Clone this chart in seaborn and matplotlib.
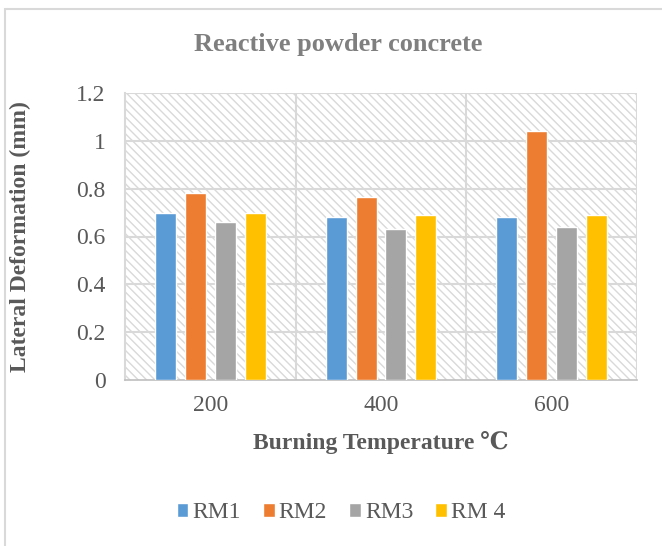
import matplotlib
matplotlib.use("Agg")
import matplotlib.pyplot as plt
import seaborn as sns
import pandas as pd
from matplotlib.patches import Rectangle

temperatures = ["200", "400", "600"]
series_names = ["RM1", "RM2", "RM3", "RM 4"]
rm1 = [0.70, 0.68, 0.68]
rm2 = [0.78, 0.765, 1.04]
rm3 = [0.66, 0.63, 0.64]
rm4 = [0.70, 0.69, 0.69]
colors = ["#5B9BD5", "#ED7D31", "#A5A5A5", "#FFC000"]

rows = []
for name, vals in zip(series_names, [rm1, rm2, rm3, rm4]):
    for t, v in zip(temperatures, vals):
        rows.append({"Temperature": t, "Series": name, "Value": v})
df = pd.DataFrame(rows)

sns.set_theme(style="white")
plt.rcParams['font.family'] = ['Liberation Serif', 'DejaVu Serif']
plt.rcParams['hatch.linewidth'] = 1.0
plt.rcParams['hatch.color'] = '#d9d9d9'

fig = plt.figure(figsize=(6.62, 5.46), dpi=100)
ax = fig.add_axes([125/662, 1-380/546, 512/662, 287/546])

# figure border
fig.patches.append(Rectangle((5/662, -10/546), 700/662, 547/546, transform=fig.transFigure,
                             fill=False, edgecolor='#d9d9d9', lw=1.5))

# hatched plot background
ax.add_patch(Rectangle((0, 0), 1, 1, transform=ax.transAxes, facecolor='white',
                       edgecolor='#d9d9d9', hatch='\\\\\\\\', lw=0, zorder=0))

sns.barplot(data=df, x="Temperature", y="Value", hue="Series", palette=colors,
            width=0.7, gap=0.3, ax=ax, order=temperatures, hue_order=series_names,
            zorder=3, errorbar=None, saturation=1)

ax.set_ylim(0, 1.2)
ax.set_xlim(-0.5, 2.5)
ax.set_yticks([0, 0.2, 0.4, 0.6, 0.8, 1.0, 1.2])
ax.set_yticklabels(["0", "0.2", "0.4", "0.6", "0.8", "1", "1.2"])
for y in [0.2, 0.4, 0.6, 0.8, 1.0, 1.2]:
    ax.axhline(y, color='#d9d9d9', lw=1.5, zorder=1)
for x in [0.5, 1.5, 2.5]:
    ax.axvline(x, color='#d9d9d9', lw=1.5, zorder=1)
for s in ['top', 'right']:
    ax.spines[s].set_visible(False)
ax.spines['left'].set_color('#d9d9d9')
ax.spines['left'].set_linewidth(1.5)
ax.spines['bottom'].set_color('#bfbfbf')
ax.spines['bottom'].set_linewidth(1.2)
ax.tick_params(axis='both', length=0, labelsize=17, colors='#595959')
ax.tick_params(axis='x', pad=11)
ax.tick_params(axis='y', pad=14)

ax.set_xlabel("Burning Temperature ℃", fontsize=17, fontweight='bold', color='#595959')
ax.set_ylabel("Lateral Deformation (mm)", fontsize=17, fontweight='bold', color='#595959')
ax.xaxis.set_label_coords(0.5, (380-443)/287)
ax.yaxis.set_label_coords((20-125)/512, 0.5)
ax.xaxis.label.set_va('center')
ax.yaxis.label.set_va('center')

fig.text(338/662, 1-45/546, "Reactive powder concrete", ha='center', va='center',
         fontsize=19, fontweight='bold', color='#7f7f7f')

ax.legend(loc='center', bbox_to_anchor=(341/662, 1-513/546),
          bbox_transform=fig.transFigure, ncol=4, frameon=False, fontsize=17,
          handlelength=0.5, handleheight=0.5, handletextpad=0.17, columnspacing=0.93,
          labelcolor='#595959')

fig.savefig("out.png", dpi=100)
